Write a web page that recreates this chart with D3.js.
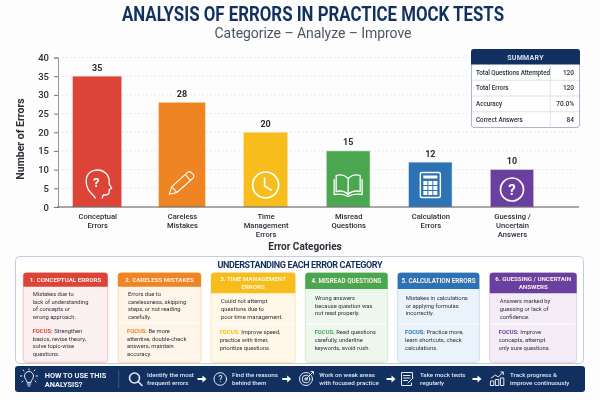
<!DOCTYPE html>
<html><head><meta charset="utf-8">
<script src="https://cdnjs.cloudflare.com/ajax/libs/d3/7.8.5/d3.min.js"></script>
<style>html,body{margin:0;padding:0;background:#fdfdfd}svg{display:block;font-family:Roboto,sans-serif;filter:blur(.35px)}</style>
</head><body><svg id="c" width="600" height="400"></svg>
<script>
const categories = ["Conceptual Errors","Careless Mistakes","Time Management Errors","Misread Questions","Calculation Errors","Guessing / Uncertain Answers"];
const errorCounts = [35,28,20,15,12,10];
const axisLabelLines = [["Conceptual","Errors"],["Careless","Mistakes"],["Time","Management","Errors"],["Misread","Questions"],["Calculation","Errors"],["Guessing /","Uncertain","Answers"]];
const yTicks = [0,5,10,15,20,25,30,35,40];
const summaryLabels = ["Total Questions Attempted","Total Errors","Accuracy","Correct Answers"];
const summaryValues = ["120","120","70.0%","84"];
const cardTitles = [["1. CONCEPTUAL ERRORS"],["2. CARELESS MISTAKES"],["3. TIME MANAGEMENT","ERRORS"],["4. MISREAD QUESTIONS"],["5. CALCULATION ERRORS"],["6. GUESSING / UNCERTAIN","ANSWERS"]];
const cardBodies = [
 ["Mistakes due to","lack of understanding","of concepts or","wrong approach."],
 ["Errors due to","carelessness, skipping","steps, or not reading","carefully."],
 ["Could not attempt","questions due to","poor time management."],
 ["Wrong answers","because question was","not read properly."],
 ["Mistakes in calculations","or applying formulas","incorrectly."],
 ["Answers marked by","guessing or lack of","confidence."]];
const cardFocus = [
 ["Strengthen","basics, revise theory,","solve topic-wise","questions."],
 ["Be more","attentive, double-check","answers, maintain","accuracy."],
 ["Improve speed,","practice with timer,","prioritize questions."],
 ["Read questions","carefully, underline","keywords, avoid rush."],
 ["Practice more,","learn shortcuts, check","calculations."],
 ["Improve","concepts, attempt","only sure questions."]];
const howToTitle = ["HOW TO USE THIS","ANALYSIS?"];
const howToSteps = [["Identify the most","frequent errors"],["Find the reasons","behind them"],["Work on weak areas","with focused practice"],["Take mock tests","regularly"],["Track progress &","improve continuously"]];

const NAVY="#12305f", INK="#2b2f36";
const colors=["#dc4438","#ee8422","#f6bd1c","#4aa64f","#2c72b5","#6b3fa0"];
const tints=["#fdf0f0","#fff4e8","#fff8e8","#eef7ee","#eaf3fb","#f4edf8"];
const edges=["#f4bcbc","#fbd6ae","#fbe6b2","#cfe8cf","#c6def2","#dccbec"];
const svg=d3.select("#c");

function lines(g,arr,x,y0,dy,attrs){
  arr.forEach((t,i)=>{const s=g.append("text").attr("x",x).attr("y",y0+i*dy).text(t);
    Object.entries(attrs).forEach(([k,v])=>s.attr(k,v));});
}

// Title
svg.append("text").attr("x",313).attr("y",20.5).attr("text-anchor","middle")
 .attr("font-size",20).attr("font-weight",700).attr("fill",NAVY)
 .attr("textLength",382).attr("lengthAdjust","spacingAndGlyphs").text("ANALYSIS OF ERRORS IN PRACTICE MOCK TESTS");
svg.append("text").attr("x",313).attr("y",38).attr("text-anchor","middle")
 .attr("font-size",14).attr("fill","#4c5661").attr("textLength",197).text("Categorize – Analyze – Improve");

// Scales
const y=d3.scaleLinear().domain([0,40]).range([207,57.5]);
const xLeft=d3.scaleOrdinal().domain(categories).range([72.7,158.7,243.5,326.3,408.7,490.3]);
const xRight=d3.scaleOrdinal().domain(categories).range([121.7,205.3,287.7,370,452,533.7]);
const xMid=d3.scaleOrdinal().domain(categories).range(categories.map(c=>(xLeft(c)+xRight(c))/2));
const plotX0=58, plotX1=579;

// grid
svg.append("g").selectAll("line").data(yTicks.filter(d=>d>0)).join("line")
 .attr("x1",plotX0).attr("x2",plotX1).attr("y1",d=>y(d)).attr("y2",d=>y(d))
 .attr("stroke","#e6e6e6").attr("stroke-width",.8).attr("stroke-dasharray","2 2");

// y axis
const ya=svg.append("g").attr("transform",`translate(${plotX0},0)`)
 .call(d3.axisLeft(y).tickValues(yTicks).tickSize(4).tickPadding(5));
ya.selectAll("text").attr("font-size",9.5).attr("font-family","Roboto,sans-serif").attr("font-weight",500).attr("fill",INK);
ya.selectAll("line").attr("stroke","#777");
ya.select(".domain").attr("stroke","#999").attr("stroke-width",1);

// bars
svg.append("g").selectAll("rect").data(categories).join("rect")
 .attr("x",c=>xLeft(c)).attr("width",c=>xRight(c)-xLeft(c))
 .attr("y",(c,i)=>y(errorCounts[i])).attr("height",(c,i)=>y(0)-y(errorCounts[i]))
 .attr("fill",(c,i)=>colors[i]).attr("stroke",(c,i)=>edges[i]).attr("stroke-width",.6);
svg.append("g").selectAll("text").data(categories).join("text")
 .attr("x",c=>xMid(c)).attr("y",(c,i)=>y(errorCounts[i])-5.5).attr("text-anchor","middle")
 .attr("font-size",9).attr("font-weight",700).attr("fill",INK).text((c,i)=>errorCounts[i]);

// baseline
svg.append("line").attr("x1",plotX0-1).attr("x2",plotX1).attr("y1",y(0)).attr("y2",y(0)).attr("stroke","#555").attr("stroke-width",1);

// x axis labels
const xa=svg.append("g").attr("transform",`translate(0,${y(0)})`)
 .call(d3.axisBottom(xMid).tickSize(0).tickFormat(()=>""));
xa.select(".domain").remove();
xa.selectAll(".tick").each(function(c,i){
  lines(d3.select(this),axisLabelLines[i],0,11.6,9,{"text-anchor":"middle","font-size":7.6,"font-weight":500,"fill":INK,"font-family":"Roboto,sans-serif"});
});
svg.append("text").attr("x",305).attr("y",249.5).attr("text-anchor","middle").attr("font-size",10).attr("font-weight",700).attr("fill",INK).text("Error Categories");
svg.append("text").attr("transform","translate(24,139) rotate(-90)").attr("text-anchor","middle").attr("font-size",10.5).attr("font-weight",700).attr("fill",INK).text("Number of Errors");

// Bar icons
const iconDy=[23,23,22,21.5,22,17.5];
const iconDraw=[
 g=>{g.append("path").attr("d","M-2 14 C-3 10 -11 9 -11 -3 C-11 -11 -5 -14 0 -14 C7 -14 12 -9 12 -3 L12 0 L14.5 4.5 L12 5.5 L12 8 C12 10.5 10 11 7 11 L6 11 L5 14");
      g.append("text").attr("x",-1).attr("y",2.5).attr("text-anchor","middle").attr("font-size",13).attr("font-weight",700).attr("fill","#fff").attr("stroke","none").text("?");},
 g=>{g.append("path").attr("transform","scale(.85)").attr("d","M-15 12 L-12 3 L7 -14 Q9 -15.5 11 -13.5 L13.5 -11 Q15 -9 13 -7 L-6 10 Z M-12 3 L-6 10 M4 -11 L10 -4");},
 g=>{g.append("circle").attr("r",13);g.append("path").attr("d","M-1 -7 L-1 1 L5.5 5");},
 g=>{g.append("path").attr("d","M0 -7 C-4 -11 -9 -11 -12 -10 L-12 6 C-8 5 -3 6 0 9 C3 6 8 5 12 6 L12 -10 C9 -11 4 -11 0 -7 Z M0 -7 L0 9 M-14 -6 L-14 9 C-8 8 -3 9 0 11 C3 9 8 8 14 9 L14 -6");},
 g=>{g.append("rect").attr("x",-10).attr("y",-12.5).attr("width",20).attr("height",25).attr("rx",1.5).attr("stroke-width",1.4);
     g.append("rect").attr("x",-7).attr("y",-9.5).attr("width",14).attr("height",3).attr("fill","#fff").attr("stroke","none");
     d3.range(3).forEach(r=>d3.range(3).forEach(c=>g.append("rect").attr("x",-7+c*5).attr("y",-4+r*5).attr("width",4).attr("height",4).attr("fill","#fff").attr("stroke","none")));},
 g=>{g.append("circle").attr("r",11.5);
     g.append("text").attr("y",5.5).attr("text-anchor","middle").attr("font-size",15).attr("font-weight",700).attr("fill","#fff").attr("stroke","none").text("?");}
];
categories.forEach((c,i)=>{
  const g=svg.append("g").attr("transform",`translate(${xMid(c)},${y(0)-iconDy[i]})`)
    .attr("fill","none").attr("stroke","#fff").attr("stroke-width",i==2||i==5?1.7:1.3).attr("stroke-linejoin","round").attr("stroke-linecap","round");
  iconDraw[i](g);
});

// Summary
const S=svg.append("g");
S.append("rect").attr("x",471.5).attr("y",49.5).attr("width",108).attr("height",78).attr("rx",2.5).attr("fill","#fff").attr("stroke","#a9b6cc").attr("stroke-width",1);
S.append("path").attr("d","M471 64.5 V52 Q471 49 474 49 H577 Q580 49 580 52 V64.5 Z").attr("fill",NAVY);
S.append("text").attr("x",525.5).attr("y",60).attr("text-anchor","middle").attr("font-size",7).attr("font-weight",700).attr("fill","#d9e2f0").attr("letter-spacing",.3).text("SUMMARY");
const rowY=d3.scaleBand().domain(summaryLabels).range([64.5,127.5]);
S.append("line").attr("x1",550.3).attr("x2",550.3).attr("y1",64.5).attr("y2",127.5).attr("stroke","#d5dbe5").attr("stroke-width",.8);
summaryLabels.forEach((l,i)=>{
  const cy=rowY(l)+rowY.bandwidth()/2;
  if(i>0)S.append("line").attr("x1",472).attr("x2",579).attr("y1",rowY(l)).attr("y2",rowY(l)).attr("stroke","#d5dbe5").attr("stroke-width",.8);
  const t=S.append("text").attr("x",476).attr("y",cy+2.3).attr("font-size",6.3).attr("font-weight",500).attr("fill",INK).text(l);
  if(i==0)t.attr("textLength",74);
  S.append("text").attr("x",574).attr("y",cy+2.3).attr("text-anchor","end").attr("font-size",6.5).attr("font-weight",500).attr("fill",INK).text(summaryValues[i]);
});

// Understanding panel
svg.append("rect").attr("x",15.5).attr("y",256.5).attr("width",568).attr("height",107).attr("rx",4).attr("fill","#fefefe").attr("stroke","#c3cce0").attr("stroke-width",1);
svg.append("text").attr("x",300).attr("y",268).attr("text-anchor","middle").attr("font-size",9).attr("font-weight",700).attr("fill",NAVY).attr("textLength",165).text("UNDERSTANDING EACH ERROR CATEGORY");

const cardX=d3.scaleOrdinal().domain(categories).range([23.3,118,211,305.3,397.7,489.7]);
const cardR=d3.scaleOrdinal().domain(categories).range([107.7,201,295.3,387.7,479.3,576.7]);
const headH=[14,14,20.5,16.3,16.3,20.5];
const bodyX=[9.4,10,10,9.7,8,10];
const focusX=[9.4,9,8.7,9.4,7.3,9];
const bodyY=[21,21,28.3,25,25,28.3];
const focusY=[58,58,59.6,59.6,59.6,59.6];
const divY=[null,50,51.3,51.3,51.3,51.3];
const cardTop=272.7, cardH=89.6;
categories.forEach((c,i)=>{
  const x0=cardX(c), w=cardR(c)-x0, h=headH[i], col=colors[i];
  const g=svg.append("g").attr("transform",`translate(${x0},${cardTop})`);
  g.append("rect").attr("width",w).attr("height",cardH).attr("rx",3).attr("fill",tints[i]).attr("stroke",edges[i]).attr("stroke-width",.9);
  g.append("path").attr("d",`M0 ${h} V3 Q0 0 3 0 H${w-3} Q${w} 0 ${w} 3 V${h} Z`).attr("fill",col);
  const ts=cardTitles[i];
  lines(g,ts,w/2,ts.length==1?(h/2+2.5):8.5,8,{"text-anchor":"middle","font-size":i==4||i==3?6.3:6.2,"font-weight":700,"fill":i==2?"#fff6d8":"#fbeee6"});
  if(divY[i])g.append("line").attr("x1",1).attr("x2",w-1).attr("y1",divY[i]).attr("y2",divY[i]).attr("stroke","#fff").attr("stroke-width",.9);
  lines(g,cardBodies[i],bodyX[i],bodyY[i]+2,7.9,{"font-size":5.8,"fill":"#2b313a"});
  cardFocus[i].forEach((t,j)=>{
    const s=g.append("text").attr("x",focusX[i]).attr("y",focusY[i]+2+j*7.9).attr("font-size",5.8).attr("fill","#2b313a");
    if(j==0){s.append("tspan").attr("font-weight",700).attr("fill",col).text("FOCUS: ");}
    s.append("tspan").text(t);
  });
});

// Footer
const F=svg.append("g");
F.append("rect").attr("x",15).attr("y",366).attr("width",570).attr("height",26).attr("rx",3).attr("fill",NAVY);
lines(F,howToTitle,44.7,378,9,{"font-size":7.4,"font-weight":700,"fill":"#eef2f8"});
F.append("line").attr("x1",118.7).attr("x2",118.7).attr("y1",370).attr("y2",388).attr("stroke","#4a628a").attr("stroke-width",.8);
const stepText=d3.scaleOrdinal().domain(howToSteps.map(s=>s[0])).range([147,232,319.3,420,510]);
const stepIcon=[135.5,220.3,306,407,497.3];
const arrows=[202,286.7,391,477];
howToSteps.forEach(s=>lines(F,s,stepText(s[0]),376.8,8.3,{"font-size":6.2,"font-weight":500,"fill":"#dfe6f1"}));
const arrowPath="M-4.5 -1 H0.5 V-3.5 L4.5 0 L0.5 3.5 V1 H-4.5 Z";
arrows.forEach(a=>F.append("path").attr("transform",`translate(${a},379)`).attr("d",arrowPath).attr("fill","#fff"));
const ic=(x)=>F.append("g").attr("transform",`translate(${x},379)`).attr("fill","none").attr("stroke","#e6ebf3").attr("stroke-width",1).attr("stroke-linecap","round").attr("stroke-linejoin","round");
// bulb
{const g=ic(29);g.append("path").attr("d","M-2 3 C-2 1 -4.5 0 -4.5 -3 A4.5 4.5 0 0 1 4.5 -3 C4.5 0 2 1 2 3 Z M-1.8 5 H1.8 M-1 7 H1 M-7 -3 H-8.5 M7 -3 H8.5 M-5 -8 L-6 -9 M5 -8 L6 -9 M0 -9 V-10 M-6 2 L-7 3 M6 2 L7 3");}
// search
{const g=ic(stepIcon[0]);g.attr("stroke-width",1.6);g.append("circle").attr("cx",-1).attr("cy",-1).attr("r",5);g.append("path").attr("d","M2.8 2.8 L6.5 6.5");}
// question
{const g=ic(stepIcon[1]);g.append("circle").attr("r",6.3);g.append("text").attr("y",3).attr("text-anchor","middle").attr("font-size",9).attr("fill","#e6ebf3").attr("stroke","none").text("?");}
// target
{const g=ic(stepIcon[2]);g.append("circle").attr("r",6.5);g.append("circle").attr("r",3.8);g.append("circle").attr("r",1.2);g.append("path").attr("d","M0 0 L7 -7 M5 -7.5 H7.5 V-5");}
// doc
{const g=ic(stepIcon[3]);g.append("path").attr("d","M4.5 4 V6.5 H-5.5 V-6.5 H5.5 V-1 M-3.5 -3.5 H3 M-3.5 -1 H3 M-3.5 1.5 H0.5 M1 4 L6 -1");}
// progress chart
{const g=ic(stepIcon[4]);g.append("path").attr("d","M-6 -1 L-2 -4 L1 -2 L6 -7 M3.5 -7 H6 V-4.5");
 g.append("rect").attr("x",-6.5).attr("y",2).attr("width",3).attr("height",4.5);g.append("rect").attr("x",-1.5).attr("y",0.5).attr("width",3).attr("height",6);g.append("rect").attr("x",3.5).attr("y",-1).attr("width",3).attr("height",7.5);}
</script></body></html>
